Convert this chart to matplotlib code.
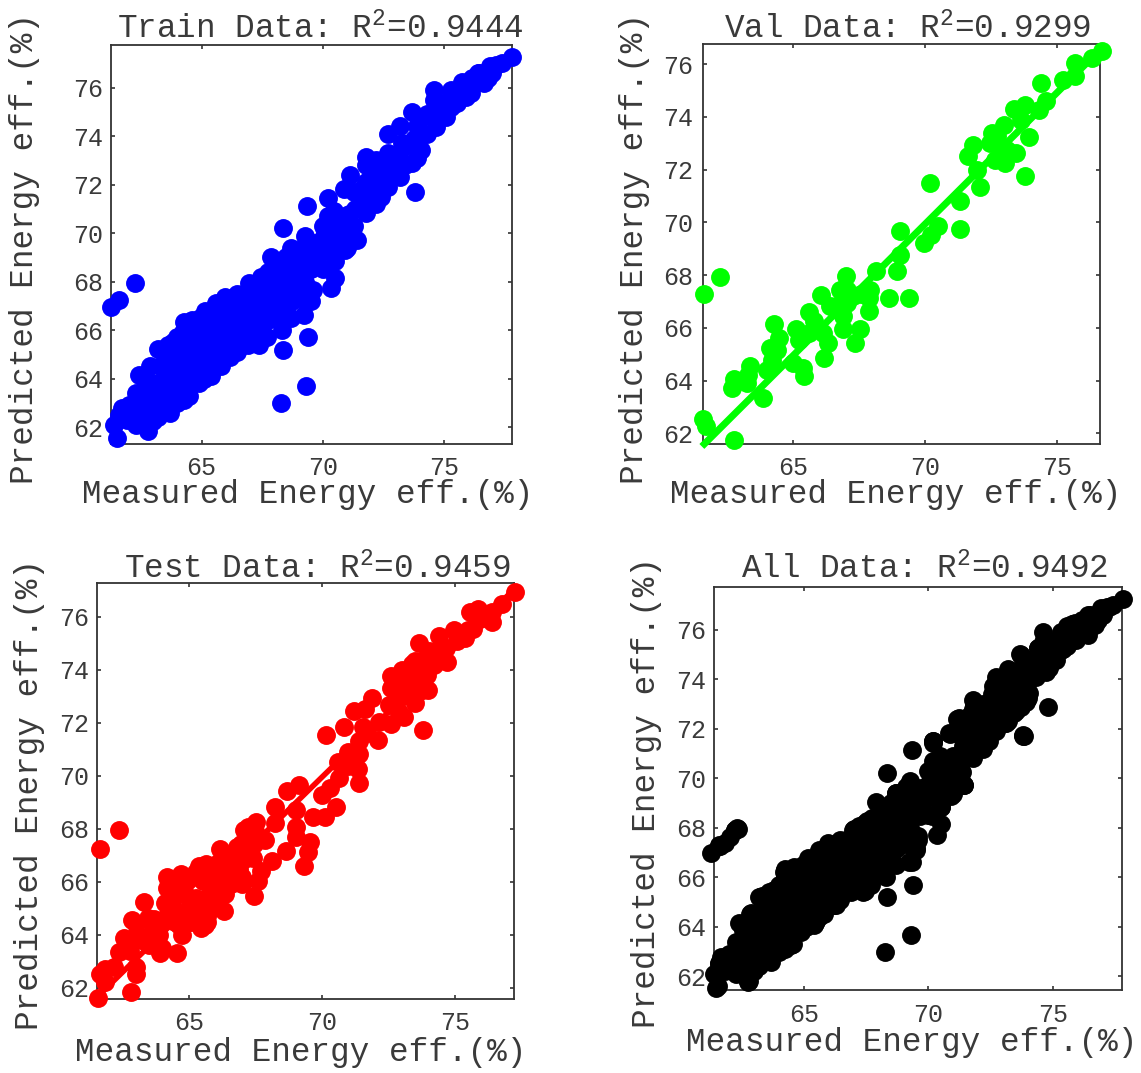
import numpy as np
import matplotlib
matplotlib.use("Agg")
import matplotlib.pyplot as plt

plt.rcParams['font.family'] = ['Liberation Mono', 'DejaVu Sans Mono']
plt.rcParams['mathtext.default'] = 'regular'

W, H = 1141, 1073
TEXT_COLOR = '#3a3a3a'

x_ticks = [65, 70, 75]
y_ticks = [62, 64, 66, 68, 70, 72, 74, 76]

# train points
train_x = [61.28, 61.6, 62.25, 73.8, 68.35, 69.37, 69.3, 68.26, 69.34, 68.35, 70.2,
           61.5, 61.4, 61.6, 61.7, 61.9, 62.0, 62.1,
           62.3, 62.35, 62.3, 62.4, 62.6, 62.6, 62.7,
           62.77, 62.85, 62.9, 62.8, 62.85, 63.0,
           63.2, 63.25, 63.2, 63.3, 63.2, 63.5, 63.55, 63.5, 63.6,
           63.7, 63.75, 63.8, 63.7, 63.8, 64.0, 64.05, 64.0, 64.1, 64.0,
           64.26, 64.3, 64.2, 64.3, 64.25, 64.26, 64.48, 64.5, 64.5, 64.6, 64.55, 64.6,
           64.9, 64.9, 64.95, 65.0, 64.95, 65.1, 65.1, 65.15, 65.1, 65.15,
           65.4, 65.45, 65.5, 65.5, 65.4, 65.6, 65.8, 65.75, 65.8, 65.85, 65.96,
           66.18, 66.1, 66.15, 66.2, 66.15, 66.45, 66.5, 66.4, 66.5, 66.45,
           66.9, 66.85, 66.9, 66.95, 66.96, 67.38, 67.4, 67.35, 67.4, 67.45,
           67.7, 67.75, 67.8, 67.7, 67.75, 67.88, 68.3, 68.25, 68.3, 68.35, 68.3,
           68.7, 68.75, 68.7, 68.8, 68.7, 69.23, 69.2, 69.25, 69.2, 69.2, 69.25,
           69.5, 69.58, 69.5, 69.55, 70.0, 69.95, 70.05, 70.0,
           70.36, 70.5, 70.5, 70.45, 70.4, 70.45, 70.9, 71.0, 70.85, 70.9, 70.86,
           71.43, 71.3, 71.35, 71.3, 71.14, 71.78, 71.75, 71.8, 71.78, 71.78,
           72.2, 72.42, 72.25, 72.2, 72.7, 72.75, 72.7, 72.7,
           73.2, 73.2, 73.25, 73.2, 73.7, 73.9, 73.75, 73.7, 74.05, 74.1, 74.1,
           74.69, 74.6, 74.6, 74.6, 75.1, 75.1, 75.54, 75.6, 75.75,
           76.1, 76.15, 76.67, 76.46, 77.17, 77.8,
           71.5, 71.6, 72.0, 72.0, 72.4, 72.5, 72.9, 73.0, 73.4, 73.4, 73.9, 73.9,
           74.3, 74.3, 74.8, 75.3, 75.3, 75.9, 76.3, 76.8, 77.4, 77.0, 76.9, 76.4,
           70.2, 70.7, 70.7, 70.2, 71.1, 71.1, 71.5, 69.7, 69.7,
           69.0, 69.0, 69.0, 68.5, 68.5, 68.5, 68.5, 68.1, 68.1, 68.1, 68.1,
           67.2, 67.2, 67.2, 67.2, 66.7, 66.7, 66.7, 66.7, 66.3, 66.3, 66.3,
           65.3, 65.3, 65.3, 65.3, 64.7, 64.7, 64.7]
train_y = [66.97, 67.25, 67.93, 71.71, 65.19, 65.71, 63.68, 62.99, 71.13, 70.2, 71.44,
           61.55, 62.1, 62.5, 62.78, 62.3, 62.9, 62.5,
           62.1, 62.8, 63.4, 64.16, 62.4, 63.1, 63.8,
           61.82, 62.5, 63.2, 63.9, 64.5, 62.23,
           62.4, 63.1, 63.8, 64.5, 65.2, 62.9, 63.6, 64.3, 65.4,
           62.58, 63.3, 64.0, 64.8, 65.5, 63.0, 63.6, 64.3, 65.0, 65.7,
           63.1, 63.8, 64.5, 65.2, 65.9, 66.35, 63.26, 63.9, 64.6, 65.3, 66.0, 66.4,
           63.8, 64.4, 65.1, 65.8, 66.5, 64.0, 64.7, 65.4, 66.1, 66.77,
           64.09, 64.7, 65.4, 66.1, 66.8, 67.1, 64.5, 65.2, 65.9, 66.6, 67.38,
           64.9, 65.5, 66.2, 66.8, 67.3, 65.1, 65.7, 66.4, 67.0, 67.5,
           65.4, 66.1, 66.8, 67.5, 67.93, 65.4, 66.0, 66.7, 67.5, 68.2,
           65.7, 66.4, 67.1, 67.8, 68.4, 69.03, 66.0, 66.7, 67.4, 68.1, 68.8,
           66.5, 67.2, 67.9, 68.6, 69.4, 66.63, 67.3, 68.0, 68.7, 69.4, 69.9,
           67.18, 67.66, 68.5, 69.2, 68.5, 69.2, 69.9, 70.3,
           67.73, 68.14, 68.83, 69.5, 70.2, 70.9, 69.3, 69.38, 70.0, 70.7, 71.8,
           69.72, 70.3, 71.0, 71.7, 72.4, 70.82, 71.4, 72.1, 72.8, 73.15,
           71.2, 71.5, 72.2, 73.0, 71.9, 72.6, 73.3, 74.1,
           72.33, 73.0, 73.7, 74.4, 72.9, 73.09, 73.9, 75.0, 73.43, 74.1, 74.8,
           74.39, 74.9, 75.5, 75.9, 74.8, 75.4, 75.35, 75.8, 76.24,
           75.8, 76.4, 76.18, 76.59, 76.93, 77.25,
           71.1, 71.8, 71.6, 72.4, 72.1, 72.9, 72.3, 73.2, 72.8, 73.6, 73.6, 74.4,
           74.1, 74.9, 75.2, 75.2, 75.9, 75.6, 76.2, 76.4, 77.0, 76.6, 76.9, 76.6,
           69.6, 69.7, 70.4, 70.7, 70.1, 70.8, 71.6, 68.9, 69.6,
           67.4, 68.1, 68.9, 66.9, 67.6, 68.3, 69.0, 66.6, 67.3, 68.0, 68.7,
           65.8, 66.5, 67.2, 67.9, 65.4, 66.1, 66.8, 67.5, 65.3, 66.0, 66.7,
           64.4, 65.1, 65.8, 66.4, 63.8, 64.5, 65.2]

val_x = [61.62, 62.26, 61.6, 61.72, 62.78, 62.7, 62.77, 63.26, 63.39, 63.3, 63.86, 64.03,
         64.12, 64.41, 64.28, 64.48, 64.2, 65.0, 65.37, 65.44, 65.12, 65.24, 65.6, 65.82,
         65.63, 66.14, 66.33, 66.2, 66.08, 66.4, 66.91, 67.01, 66.78, 67.04, 66.65, 66.91,
         67.29, 67.04, 67.36, 67.55, 67.87, 67.93, 67.87, 67.6, 68.15, 68.64, 69.4, 68.96,
         69.06, 69.08, 69.96, 70.24, 70.49, 70.2, 71.35, 71.35, 72.09, 71.97, 71.65, 71.84,
         72.54, 72.48, 73.0, 72.73, 73.05, 72.67, 73.44, 73.12, 73.8, 73.95, 73.37, 73.8,
         73.63, 74.33, 74.59, 74.4, 75.23, 75.68, 75.68, 76.32, 76.7]
val_y = [67.3, 67.93, 62.56, 62.28, 61.77, 63.73, 64.05, 63.92, 64.55, 64.23, 63.33, 64.42,
         65.24, 65.18, 66.13, 65.62, 64.8, 64.68, 64.49, 64.17, 65.94, 65.56, 66.6, 66.25,
         65.81, 65.81, 65.43, 64.87, 67.23, 66.82, 65.94, 67.96, 67.45, 67.45, 66.82, 66.44,
         67.2, 66.95, 65.43, 65.94, 66.63, 67.45, 67.14, 67.27, 68.15, 67.14, 67.14, 68.15,
         68.78, 69.66, 69.22, 69.54, 69.85, 71.49, 70.8, 69.73, 71.33, 72.0, 72.5, 72.95,
         73.39, 73.0, 73.7, 73.26, 72.25, 72.38, 72.63, 72.76, 71.75, 73.22, 74.3, 74.46,
         73.89, 74.27, 74.59, 75.28, 75.41, 75.54, 76.04, 76.23, 76.48]
val_fit_x = [61.65, 76.6]
val_fit_y = [61.6, 76.5]

test_x = [61.65, 62.36, 61.58, 62.81, 61.65, 61.84, 61.84, 63.0, 63.0, 62.36, 62.55, 62.88,
          63.33, 63.0, 63.46, 63.33, 63.91, 64.56, 63.85, 64.24, 64.69, 64.17, 64.11, 64.37,
          64.75, 64.62, 64.75, 64.49, 65.0, 65.27, 65.66, 65.53, 65.47, 65.6, 65.27, 65.66,
          66.18, 66.31, 66.18, 65.92, 66.37, 66.7, 66.44, 67.02, 67.09, 66.96, 67.47, 67.6,
          67.73, 68.12, 67.86, 67.54, 67.22, 67.47, 66.96, 68.64, 68.25, 68.25, 68.7, 69.16,
          69.03, 69.03, 69.03, 69.35, 69.48, 69.57, 69.68, 70.13, 70.52, 70.0, 70.32, 70.65,
          71.42, 71.36, 70.97, 71.42, 70.17, 70.84, 71.23, 71.62, 71.88, 71.55, 72.11, 72.14,
          72.59, 73.1, 72.53, 73.5, 72.91, 72.59, 72.59, 73.04, 73.56, 73.43, 74.0, 73.82,
          73.5, 73.65, 73.95, 74.21, 74.02, 74.47, 74.4, 74.66, 74.96, 75.38, 75.7, 75.89,
          75.57, 75.96, 76.41, 76.77, 77.25,
          64.4, 64.9, 65.0, 65.3, 65.7, 65.9, 66.0, 66.1, 66.6, 66.5, 66.9, 67.2,
          70.6, 71.0, 71.4, 71.7, 72.9, 73.3, 73.7, 73.7, 73.0, 72.7, 74.3, 74.7,
          75.1, 75.5, 75.9, 76.2, 76.4, 73.9, 74.1, 73.0, 73.4,
          66.8, 66.6, 66.9, 67.2, 67.3, 67.4, 67.5, 67.0, 65.8, 66.1, 65.5, 64.9,
          65.0, 64.5, 65.0, 65.4, 65.8, 63.0, 63.7, 63.9, 63.5, 62.8, 64.2, 64.0,
          65.2, 64.2, 63.6, 62.2, 65.7, 66.3]
test_y = [67.25, 67.95, 61.6, 61.83, 62.54, 62.73, 62.22, 62.79, 62.53, 63.36, 63.87, 64.57,
          65.25, 64.0, 64.64, 63.75, 63.3, 63.3, 64.25, 66.04, 66.29, 65.78, 65.21, 65.15,
          65.66, 64.38, 64.0, 64.76, 65.02, 66.36, 66.67, 66.04, 64.25, 64.38, 65.4, 65.02,
          67.25, 64.89, 66.29, 65.53, 65.53, 66.17, 66.55, 65.91, 67.95, 67.44, 65.46, 66.04,
          66.42, 66.8, 67.57, 68.27, 68.08, 67.44, 66.8, 67.18, 68.2, 68.84, 69.41, 69.67,
          68.71, 68.08, 67.69, 66.61, 67.12, 67.5, 68.46, 68.46, 68.84, 69.29, 69.54, 69.92,
          69.73, 70.24, 70.37, 70.82, 71.52, 71.83, 72.43, 72.53, 72.94, 71.83, 71.35, 72.03,
          71.96, 72.22, 72.66, 72.73, 72.92, 73.3, 73.75, 73.55, 73.43, 73.81, 73.24, 71.73,
          74.32, 75.02, 73.81, 74.19, 74.7, 74.51, 75.27, 74.83, 75.49, 75.21, 75.53, 76.29,
          76.17, 75.91, 76.17, 76.48, 76.93,
          65.6, 65.5, 64.5, 65.0, 64.7, 65.0, 65.9, 66.7, 65.9, 66.9, 67.1, 67.3,
          70.5, 70.9, 71.3, 71.6, 72.4, 73.0, 73.2, 73.8, 73.1, 73.5, 74.7, 74.3,
          75.1, 75.5, 76.0, 76.0, 75.8, 74.4, 74.4, 74.0, 74.2,
          67.3, 67.0, 66.5, 66.9, 67.6, 66.9, 67.9, 66.2, 65.9, 65.5, 65.3, 66.0,
          64.5, 64.5, 66.1, 66.6, 66.4, 64.4, 64.6, 64.0, 63.6, 63.4, 64.7, 63.5,
          64.5, 66.2, 64.1, 62.8, 64.5, 66.3]
test_fit_x = [61.6, 77.2]
test_fit_y = [61.7, 77.0]

# points only visible in the all data panel
extra_x = [61.85, 62.05, 62.32, 74.78, 74.85]
extra_y = [67.4, 67.65, 68.01, 72.89, 74.46]
all_x = train_x + val_x + test_x + extra_x
all_y = train_y + val_y + test_y + extra_y


def px_axes(left, top, right, bottom):
    return [left / W, 1 - bottom / H, (right - left) / W, (bottom - top) / H]


def draw_panel(fig, box, xlim, ylim, xs, ys, color, title, title_pos, xlabel_pos, ylabel_pos,
               fit=None, fit_width=4, ylabel_pad=6):
    ax = fig.add_axes(px_axes(*box))
    if fit is not None:
        ax.plot(fit[0], fit[1], color=color, linewidth=fit_width, zorder=3, clip_on=False)
    ax.scatter(xs, ys, s=185, color=color, linewidths=0, zorder=3, clip_on=False)
    ax.set_xlim(xlim)
    ax.set_ylim(ylim)
    ax.set_xticks(x_ticks)
    ax.set_yticks(y_ticks)
    ax.tick_params(axis='x', direction='in', top=True, length=3, width=1.2, color='#333333',
                   labelsize=18, labelcolor=TEXT_COLOR, pad=9)
    ax.tick_params(axis='y', direction='in', right=True, length=3, width=1.2, color='#333333',
                   labelsize=18, labelcolor=TEXT_COLOR, pad=ylabel_pad)
    for spine in ax.spines.values():
        spine.set_linewidth(1.3)
        spine.set_color('#333333')
    fig.text(title_pos[0] / W, 1 - title_pos[1] / H, title, fontsize=23.5, color=TEXT_COLOR,
             ha='center', va='center')
    fig.text(xlabel_pos[0] / W, 1 - xlabel_pos[1] / H, "Measured Energy eff.(%)", fontsize=23.5,
             color=TEXT_COLOR, ha='center', va='center')
    fig.text(ylabel_pos[0] / W, 1 - ylabel_pos[1] / H, "Predicted Energy eff.(%)", fontsize=23.5,
             color=TEXT_COLOR, ha='center', va='center', rotation=90)
    return ax


fig = plt.figure(figsize=(W / 100, H / 100), dpi=100)

draw_panel(fig, (111, 45, 512, 444), (61.26, 77.81), (61.3, 77.76), train_x, train_y, '#0000ff',
           "Train Data: R$^{2}$=0.9444", (320, 29), (308, 495), (25, 249))
draw_panel(fig, (703, 44, 1100, 444), (61.6, 76.64), (61.6, 76.76), val_x, val_y, '#00ff00',
           "Val Data: R$^{2}$=0.9299", (908, 29), (896, 495), (635, 248),
           fit=(val_fit_x, val_fit_y), fit_width=5, ylabel_pad=7)
draw_panel(fig, (97, 583, 514, 999), (61.55, 77.23), (61.58, 77.27), test_x, test_y, '#ff0000',
           "Test Data: R$^{2}$=0.9459", (317, 569), (301, 1052), (30, 795),
           fit=(test_fit_x, test_fit_y), fit_width=4)
draw_panel(fig, (714, 587, 1122, 990), (61.4, 77.76), (61.45, 77.73), all_x, all_y, '#000000',
           "All Data: R$^{2}$=0.9492", (924, 569), (912, 1043), (646, 792))

fig.savefig("out.png", dpi=100)
